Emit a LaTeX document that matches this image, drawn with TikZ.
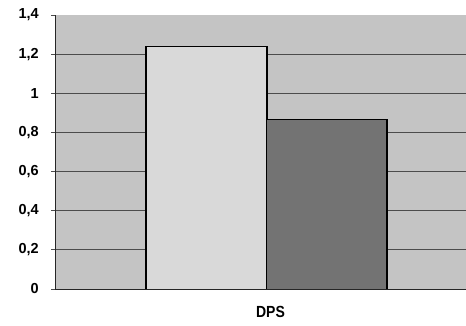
\documentclass[tikz,border=0pt]{standalone}
\usepackage{fontspec}
\setmainfont{Liberation Sans}
\definecolor{plotbg}{gray}{0.77}
\definecolor{barlight}{gray}{0.85}
\definecolor{bardark}{gray}{0.45}
\definecolor{gridc}{gray}{0.30}
\begin{document}
\begin{tikzpicture}[x=1pt,y=1pt,
  ticklab/.style={anchor=east,inner sep=0pt,font=\fontsize{14.5}{16}\selectfont\bfseries},
  gridline/.style={draw=gridc,line width=0.8pt},
  axisline/.style={draw=black!85,line width=1pt},
  barbox/.style={draw=black,line width=1.2pt}]
\useasboundingbox (0,0) rectangle (466,325);
% plot area
\fill[plotbg] (55,36) rectangle (466,310);
% grid lines and ticks
\foreach \v in {0.2,0.4,0.6,0.8,1.0,1.2}{
  \draw[gridline] (51,{36+\v*195.7}) -- (466,{36+\v*195.7});
}
\foreach \v/\t/\n in {0/{0}/l0,0.2/{0,2}/l2,0.4/{0,4}/l4,0.6/{0,6}/l6,0.8/{0,8}/l8,1.0/{1}/l10,1.2/{1,2}/l12,1.4/{1,4}/l14}{
  \node[ticklab] (\n) at (39,{36+\v*195.7}) {\t};
  \draw[gridc,line width=0.8pt] (51,{36+\v*195.7}) -- (55,{36+\v*195.7});
}
% bars
\fill[barlight] (146,36) rectangle (267,278.7);
\draw[barbox] (146,36) -- (146,278.7) -- (267,278.7) -- (267,36);
\fill[bardark] (267,36) rectangle (387,205.3);
\draw[barbox] (267,205.3) -- (387,205.3) -- (387,36);
% axes
\draw[axisline] (55,310) -- (55,36) -- (466,36);
% category label
\node[inner sep=0pt,font=\fontsize{14}{16}\selectfont\bfseries] (dps) at (270.5,13.5) {\scalebox{1}[1.15]{DPS}};
\end{tikzpicture}
\end{document}
